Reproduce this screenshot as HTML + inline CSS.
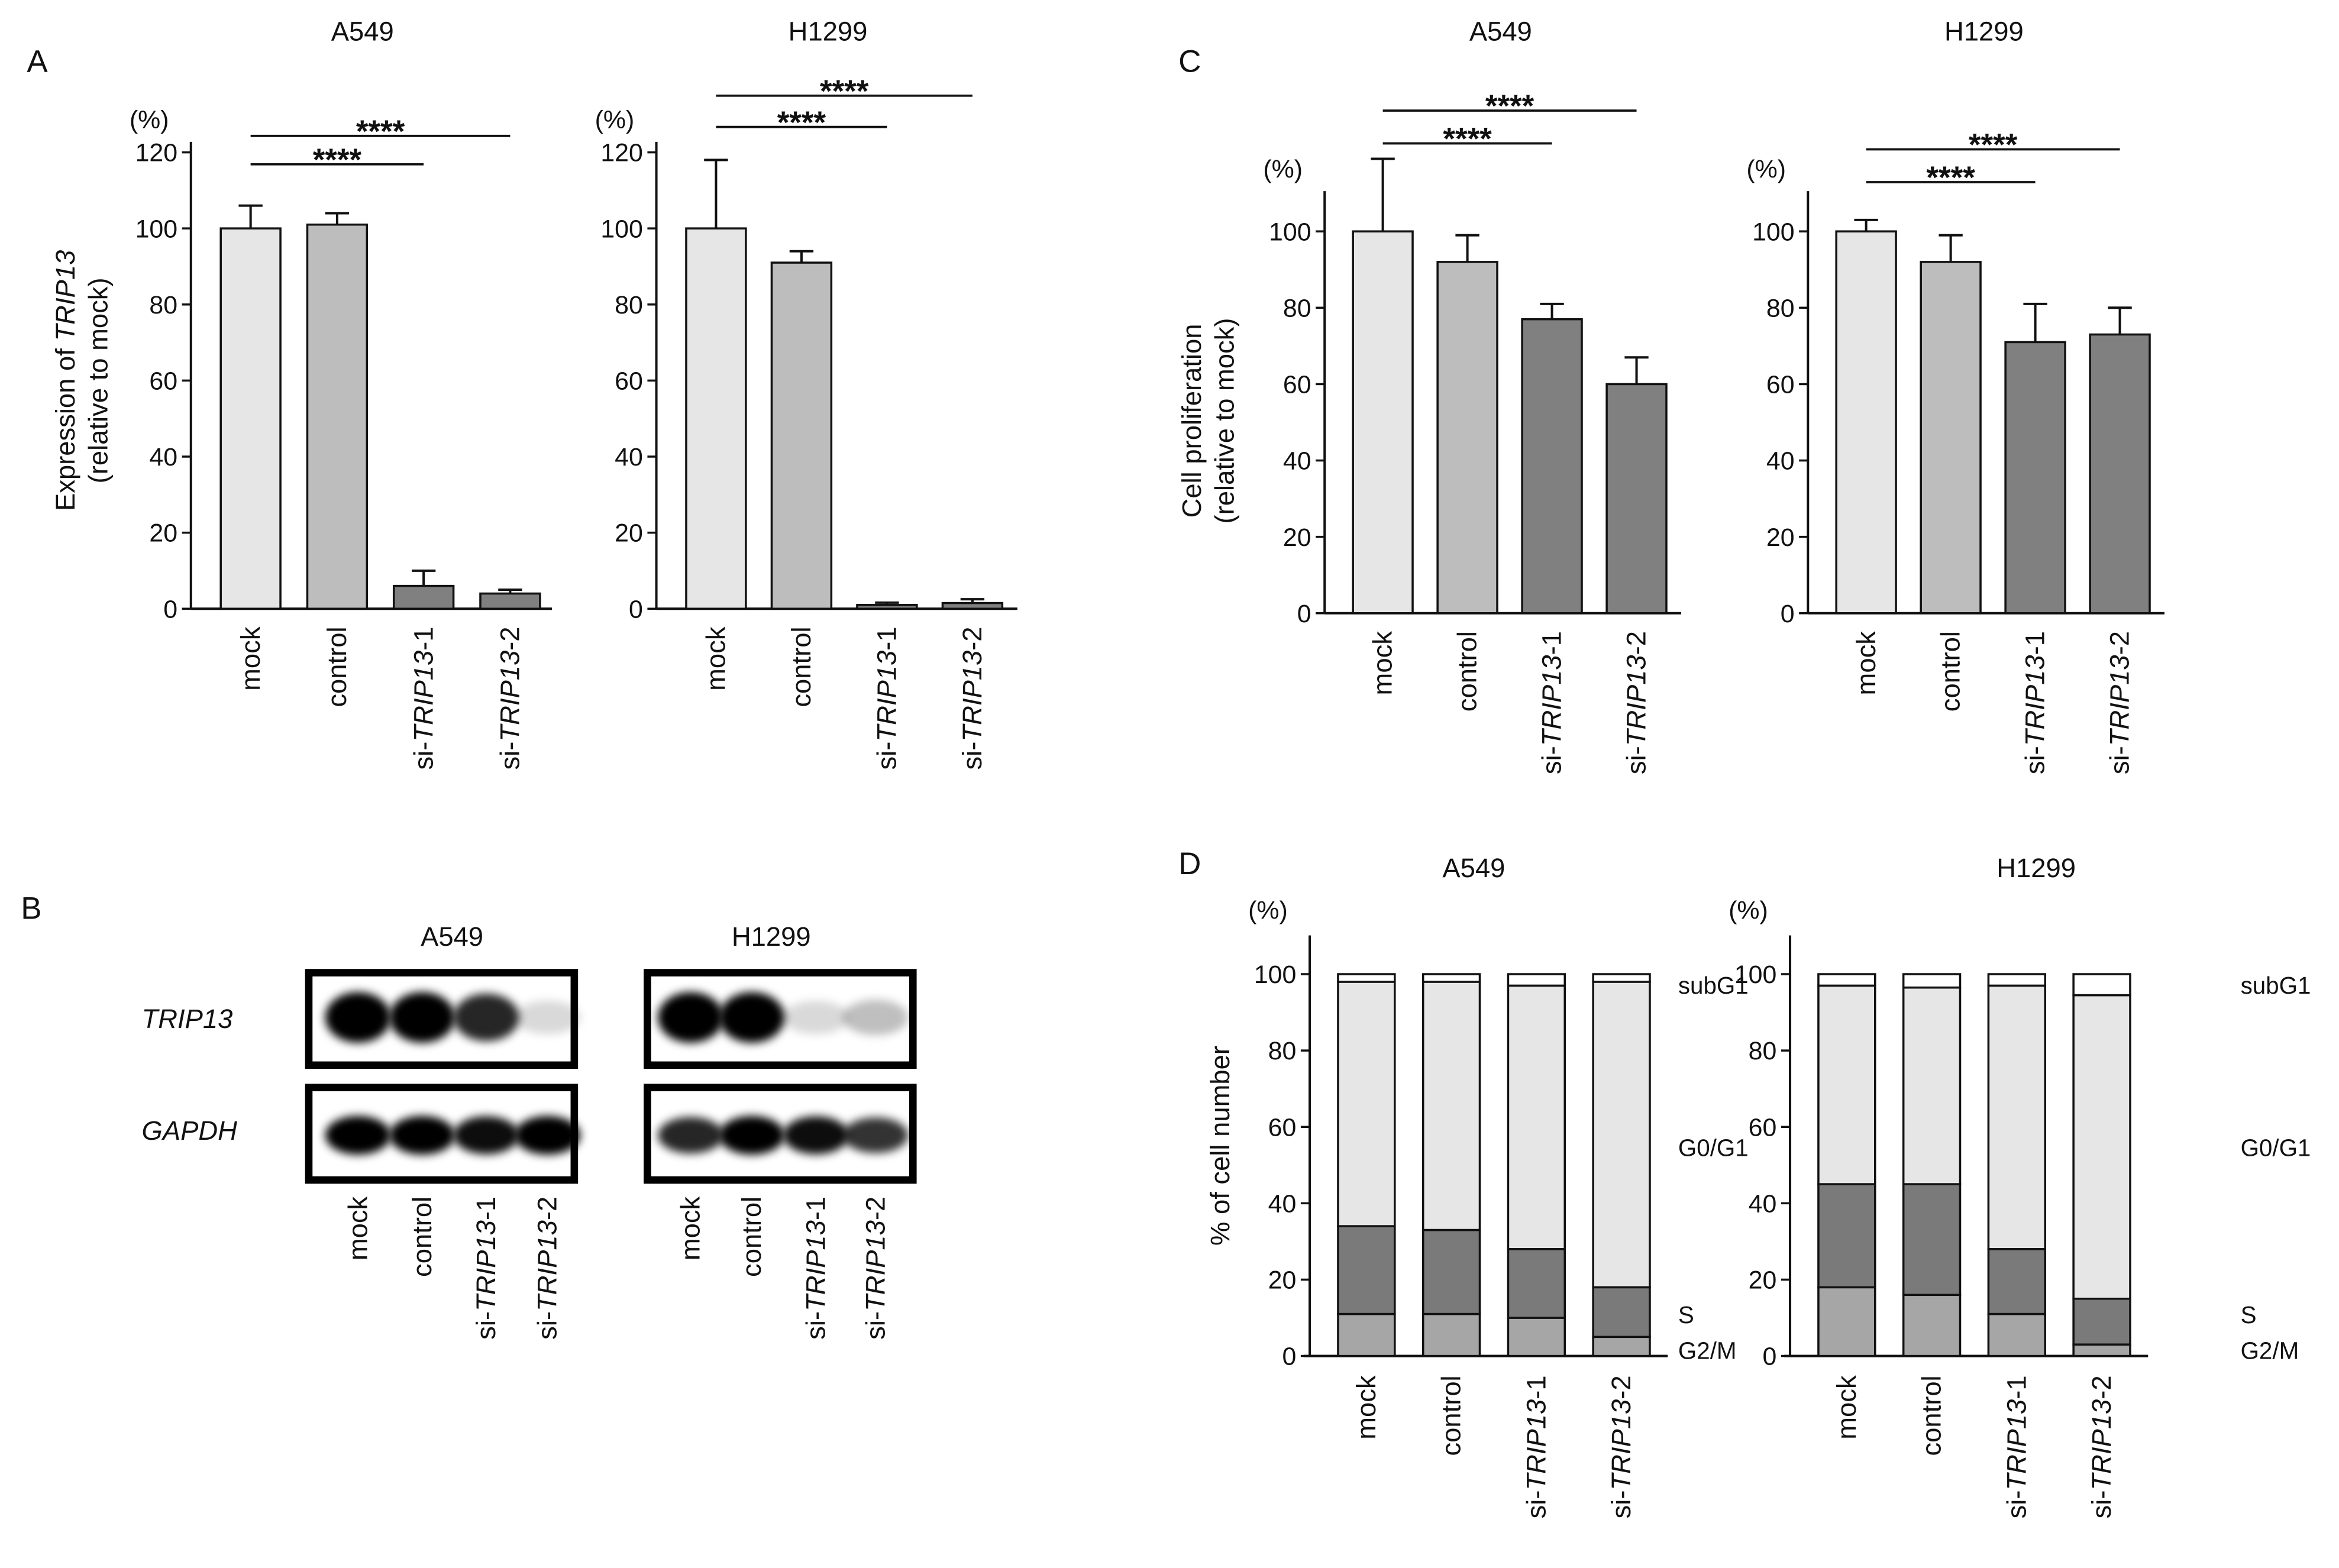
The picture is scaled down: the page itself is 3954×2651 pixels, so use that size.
<!DOCTYPE html>
<html><head><meta charset="utf-8">
<style>
html,body{margin:0;padding:0;background:#fff;}
svg{display:block;}
text{font-family:"Liberation Sans",Arial,sans-serif;fill:#111;}
</style></head>
<body>
<svg id="fig" xmlns="http://www.w3.org/2000/svg" width="3954" height="2651" viewBox="0 0 1568 1051">
<defs>
<filter id="blur" x="-30%" y="-60%" width="160%" height="220%"><feGaussianBlur stdDeviation="3"/></filter>
</defs>
<g id="root"></g>
</svg>
<script>
const categories = ["mock","control","si-TRIP13-1","si-TRIP13-2"];
const exprA549 = [100, 101, 6, 4];
const exprA549Err = [106, 104, 10, 5];
const exprH1299 = [100, 91, 1, 1.5];
const exprH1299Err = [118, 94, 1.6, 2.5];
const prolA549 = [100, 92, 77, 60];
const prolA549Err = [119, 99, 81, 67];
const prolH1299 = [100, 92, 71, 73];
const prolH1299Err = [103, 99, 81, 80];
const yTicks = [0,20,40,60,80,100,120];
const yTicksC = [0,20,40,60,80,100];
const phases = ["G2/M","S","G0/G1","subG1"];
const ccA549_G2M = [11, 11, 10, 5];
const ccA549_S = [23, 22, 18, 13];
const ccA549_G0G1 = [64, 65, 69, 80];
const ccA549_subG1 = [2, 2, 3, 2];
const ccH1299_G2M = [18, 16, 11, 3];
const ccH1299_S = [27, 29, 17, 12];
const ccH1299_G0G1 = [52, 51.5, 69, 79.5];
const ccH1299_subG1 = [3, 3.5, 3, 5.5];
const blotTripA549 = [1, 1, 0.85, 0.15];
const blotGapdhA549 = [1, 1, 0.95, 1];
const blotTripH1299 = [1, 1, 0.15, 0.25];
const blotGapdhH1299 = [0.85, 1, 0.95, 0.8];

const NS="http://www.w3.org/2000/svg";
const root=document.getElementById('root');
function el(tag,attrs,parent,txt){const e=document.createElementNS(NS,tag);for(const k in attrs)e.setAttribute(k,attrs[k]);if(txt!==undefined)e.textContent=txt;(parent||root).appendChild(e);return e;}
function txt(x,y,s,size,parent,anchor,extra){const t=el('text',Object.assign({x:x,y:y,'font-size':size||17,'text-anchor':anchor||'middle'},extra||{}),parent);t.textContent=s;return t;}
function catLabel(g,x,yEnd,cat,size){
  const t=el('text',{transform:`translate(${x+6},${yEnd}) rotate(-90)`,'font-size':size||18,'text-anchor':'end'},g);
  if(cat.startsWith('si-')){
    const a=el('tspan',{},t);a.textContent='si-';
    const b=el('tspan',{'font-style':'italic'},t);b.textContent='TRIP13';
    const c=el('tspan',{},t);c.textContent=cat.slice(-2);
  } else t.textContent=cat;
  
  
  return t;
}
function barChart(o){
  const g=el('g',{},root);
  
  
  const yS=v=>o.y0-(v/20)*o.per20;
  txt(o.titleX,27,o.title,18,g);
  txt(o.axisX-28,o.pctY,'(%)',17,g);
  el('line',{x1:o.axisX,y1:o.y0,x2:o.axisX,y2:o.top,stroke:'#111','stroke-width':1.6},g);
  el('line',{x1:o.axisX,y1:o.y0,x2:o.xEnd,y2:o.y0,stroke:'#111','stroke-width':1.6},g);
  o.ticks.forEach(t=>{el('line',{x1:o.axisX-6,y1:yS(t),x2:o.axisX,y2:yS(t),stroke:'#111','stroke-width':1.4},g);
    const tl=txt(o.axisX-9,yS(t)+6,String(t),17,g,'end');});
  const cols=['#e6e6e6','#bdbdbd','#808080','#808080'];
  o.vals.forEach((v,i)=>{
    const x=o.x0+i*o.step;
    const r=el('rect',{x:x,y:yS(v),width:o.bw,height:o.y0-yS(v),fill:cols[i],stroke:'#111','stroke-width':1.4},g);
    
    
    const cx=x+o.bw/2,e=o.err[i];
    const eb=el('path',{d:`M${cx},${yS(v)} V${yS(e)} M${cx-8},${yS(e)} H${cx+8}`,stroke:'#111','stroke-width':1.6,fill:'none'},g);
    
    
    catLabel(g,cx,o.labelY,categories[i]);
  });
  o.sig.forEach(s=>{
    const x1=o.x0+s[0]*o.step+o.bw/2,x2=o.x0+s[1]*o.step+o.bw/2;
    el('line',{x1:x1,y1:s[2],x2:x2,y2:s[2],stroke:'#111','stroke-width':1.5},g);
    const st=txt((x1+x2)/2,s[2]+4,'****',21,g,'middle',{'font-weight':'bold'});
  });
  if(o.ylab){const t=el('text',{transform:`translate(${o.ylabX},${o.ylabY}) rotate(-90)`,'font-size':18,'text-anchor':'middle'},g);
    
    o.ylab(t);}
}
[['A',18,48],['B',14,616],['C',790,48],['D',790,586]].forEach(p=>{const t=txt(p[1],p[2],p[0],21,root,'start');});

barChart({name:'chart-expr-a549',title:'A549',titleX:243,axisX:128,y0:408,per20:51,top:95,xEnd:370,x0:148,step:58,bw:40,
  vals:exprA549,err:exprA549Err,ticks:yTicks,labelY:420,pctY:86,sig:[[0,3,91],[0,2,110]],
  ylabX:50,ylabY:255,ylab:t=>{const a=el('tspan',{x:0,dy:0},t);a.textContent='Expression of ';const b=el('tspan',{'font-style':'italic'},t);b.textContent='TRIP13';
    const c=el('tspan',{x:0,dy:22},t);c.textContent='(relative to mock)';}});
barChart({name:'chart-expr-h1299',title:'H1299',titleX:555,axisX:440,y0:408,per20:51,top:95,xEnd:682,x0:460,step:57.3,bw:40,
  vals:exprH1299,err:exprH1299Err,ticks:yTicks,labelY:420,pctY:86,sig:[[0,3,64],[0,2,85]]});
barChart({name:'chart-prol-a549',title:'A549',titleX:1006,axisX:888,y0:411,per20:51.2,top:128,xEnd:1127,x0:907,step:56.7,bw:40,
  vals:prolA549,err:prolA549Err,ticks:yTicksC,labelY:423,pctY:119,sig:[[0,3,74],[0,2,96]],
  ylabX:805,ylabY:282,ylab:t=>{const a=el('tspan',{x:0,dy:0},t);a.textContent='Cell proliferation';const c=el('tspan',{x:0,dy:22},t);c.textContent='(relative to mock)';}});
barChart({name:'chart-prol-h1299',title:'H1299',titleX:1330,axisX:1212,y0:411,per20:51.2,top:128,xEnd:1451,x0:1231,step:56.7,bw:40,
  vals:prolH1299,err:prolH1299Err,ticks:yTicksC,labelY:423,pctY:119,sig:[[0,3,100],[0,2,122]]});

function stacked(o){
  const g=el('g',{},root);
  
  
  const y0=909,per20=51.2,yS=v=>y0-(v/20)*per20;
  txt(o.titleX,588,o.title,18,g);
  txt(o.axisX-28,616,'(%)',17,g);
  el('line',{x1:o.axisX,y1:y0,x2:o.axisX,y2:627,stroke:'#111','stroke-width':1.6},g);
  el('line',{x1:o.axisX-4,y1:y0,x2:o.axisX+240,y2:y0,stroke:'#111','stroke-width':1.6},g);
  yTicksC.forEach(t=>{el('line',{x1:o.axisX-6,y1:yS(t),x2:o.axisX,y2:yS(t),stroke:'#111','stroke-width':1.4},g);
    const tl=txt(o.axisX-9,yS(t)+6,String(t),17,g,'end');});
  const cols=['#a6a6a6','#7a7a7a','#e6e6e6','#ffffff'];
  const series=o.series;
  categories.forEach((c,i)=>{
    const x=o.x0+i*o.step;let cum=0;
    series.forEach((s,j)=>{
      const r=el('rect',{x:x,y:yS(cum+s[i]),width:38,height:yS(cum)-yS(cum+s[i]),fill:cols[j],stroke:'#111','stroke-width':1.4},g);
      
      
      cum+=s[i];
    });
    catLabel(g,x+19,922,c);
  });
  [['subG1',661],['G0/G1',770],['S',882],['G2/M',906]].forEach(l=>{const t=txt(o.labX,l[1]+5,l[0],16,g,'start');});
  if(o.ylab){const t=el('text',{transform:`translate(824,768) rotate(-90)`,'font-size':18,'text-anchor':'middle'},g,'% of cell number');
    }
}
stacked({name:'chart-cellcycle-a549',title:'A549',titleX:988,axisX:878,x0:897,step:57,labX:1125,series:[ccA549_G2M,ccA549_S,ccA549_G0G1,ccA549_subG1],ylab:true});
stacked({name:'chart-cellcycle-h1299',title:'H1299',titleX:1365,axisX:1200,x0:1219,step:57,labX:1502,series:[ccH1299_G2M,ccH1299_S,ccH1299_G0G1,ccH1299_subG1]});

function blot(name,x,y,vals,lanes,wide){
  const g=el('g',{},root);
  
  
  el('rect',{x:x,y:y,width:178,height:62,fill:'#fff',stroke:'#000','stroke-width':5},g);
  vals.forEach((v,i)=>{
    const cx=lanes[i];
    const b=el('ellipse',{cx:cx,cy:y+(wide?30:32),rx:wide?22:22,ry:(wide?17:13)*(0.6+0.4*v),fill:'#000','fill-opacity':v,filter:'url(#blur)'},g);
    
    
  });
}
const lanesA=[240,283,326,367],lanesH=[463,504,547,587];
blot('blot-trip13-a549',207,652,blotTripA549,lanesA,true);
blot('blot-gapdh-a549',207,729,blotGapdhA549,lanesA,false);
blot('blot-trip13-h1299',434,652,blotTripH1299,lanesH,true);
blot('blot-gapdh-h1299',434,729,blotGapdhH1299,lanesH,false);
txt(303,634,'A549',18);
txt(517,634,'H1299',18);
txt(95,689,'TRIP13',18,root,'start',{'font-style':'italic'});
txt(95,764,'GAPDH',18,root,'start',{'font-style':'italic'});
const gl=el('g',{},root);


categories.forEach((c,i)=>{catLabel(gl,lanesA[i],802,c);catLabel(gl,lanesH[i],802,c);});
</script>
</body></html>
